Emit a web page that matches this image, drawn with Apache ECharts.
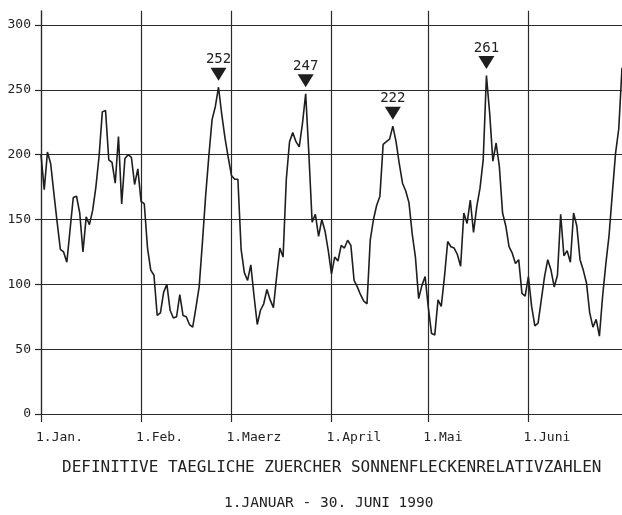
<!DOCTYPE html>
<html>
<head>
<meta charset="utf-8">
<script src="https://cdn.jsdelivr.net/npm/echarts@6/dist/echarts.min.js"></script>
<style>
html,body{margin:0;padding:0;background:#fff;}
#c{width:622px;height:515px;}
</style>
</head>
<body>
<div id="c"></div>
<script>
// Daily sunspot relative numbers, 1 Jan - 30 Jun 1990 (day index 0..180)
var janValues = [200,173,202,193,170,148,127,125,117,142,167,168,155,125,152,146,157,175,199,233,234,196,194,178,214,162,197,200,198,177,189];
var febValues = [164,162,128,111,107,76,78,94,100,80,74,75,92,76,75,69,67,82,98,132,168,199,227,237,252,231,213,198];
var marValues = [184,181,181,127,109,103,115,91,69,80,85,96,88,82,106,128,121,181,210,217,210,206,224,247,200,148,154,137,150,141,126];
var aprValues = [108,121,118,130,128,134,130,103,98,92,87,85,134,150,161,168,208,210,212,222,210,193,178,172,163,139,121,89,99,106];
var mayValues = [82,62,61,88,83,106,133,129,128,123,114,155,147,165,140,160,174,196,261,232,195,209,191,155,145,129,124,116,119,93,91];
var junValues = [106,83,68,70,88,106,119,111,98,107,154,122,126,117,155,145,119,111,101,78,67,73,60,91,116,138,170,201,220,267];

var monthLabels = ['1.Jan.','1.Feb.','1.Maerz','1.April','1.Mai','1.Juni'];
var monthStartDays = [0,31,59,90,120,151];
var peakDays = [55,82,109,138];
var yTicks = [0,50,100,150,200,250,300];
var titleLine1 = 'DEFINITIVE TAEGLICHE ZUERCHER SONNENFLECKENRELATIVZAHLEN';
var titleLine2 = '1.JANUAR - 30. JUNI 1990';

var values = [].concat(janValues, febValues, marValues, aprValues, mayValues, junValues);
var days = values.map(function(v, i){ return String(i); });
function isMonthStart(i){ return monthStartDays.indexOf(Number(i)) >= 0; }

var FONT = 'DejaVu Sans Mono';
var INK = '#222';
var GRID = '#2a2a2a';
var yMax = 311;
var splitColors = yTicks.map(function(){ return GRID; }).concat(['rgba(0,0,0,0)']);

var chart = echarts.init(document.getElementById('c'), null, {renderer:'canvas'});
chart.setOption({
  animation: false,
  backgroundColor: '#fff',
  title: [
    {text: titleLine1, left: 57, top: 453, textStyle:{fontFamily: FONT, fontSize: 16, fontWeight:'normal', color: INK, lineHeight: 20}},
    {text: titleLine2, left: 219, top: 488, textStyle:{fontFamily: FONT, fontSize: 14.5, fontWeight:'normal', color: INK, lineHeight: 20}}
  ],
  grid: {left: 41, right: 0, top: 414 - yMax * (389/300), bottom: 101, containLabel: false},
  xAxis: {
    type: 'category',
    data: days,
    boundaryGap: false,
    axisLine: {show: true, lineStyle:{color: GRID, width: 1.2}},
    axisTick: {show: true, length: 8, interval: function(i){ return isMonthStart(i); }, lineStyle:{color: GRID, width: 1.2}},
    axisLabel: {
      show: true, interval: function(i){ return isMonthStart(i); },
      formatter: function(v){ return monthLabels[monthStartDays.indexOf(Number(v))]; },
      align: 'left', padding: [0,0,0,-5], margin: 17,
      fontFamily: FONT, fontSize: 13, color: INK
    },
    splitLine: {show: true, interval: function(i){ return isMonthStart(i); }, lineStyle:{color: GRID, width: 1.2}}
  },
  yAxis: {
    type: 'value', min: 0, max: yMax, interval: 50,
    axisLine: {show: true, lineStyle:{color: GRID, width: 1.2}},
    axisTick: {show: true, length: 6, lineStyle:{color: GRID, width: 1.2}},
    axisLabel: {showMaxLabel: false, margin: 10, fontFamily: FONT, fontSize: 13, color: INK},
    splitLine: {show: true, lineStyle:{color: splitColors, width: 1.2}}
  },
  series: [{
    type: 'line',
    data: values,
    showSymbol: false,
    symbol: 'none',
    lineStyle: {color: '#1e1e1e', width: 1.6},
    markPoint: {
      symbol: 'triangle',
      symbolRotate: 180,
      symbolSize: [16, 13],
      symbolOffset: [0, -13],
      itemStyle: {color: '#1e1e1e'},
      label: {show: true, position: 'top', distance: 1, formatter: '{c}', fontFamily: FONT, fontSize: 14, color: INK},
      data: peakDays.map(function(d){ return {coord: [days[d], values[d]], value: values[d]}; })
    }
  }]
});
</script>
</body>
</html>
